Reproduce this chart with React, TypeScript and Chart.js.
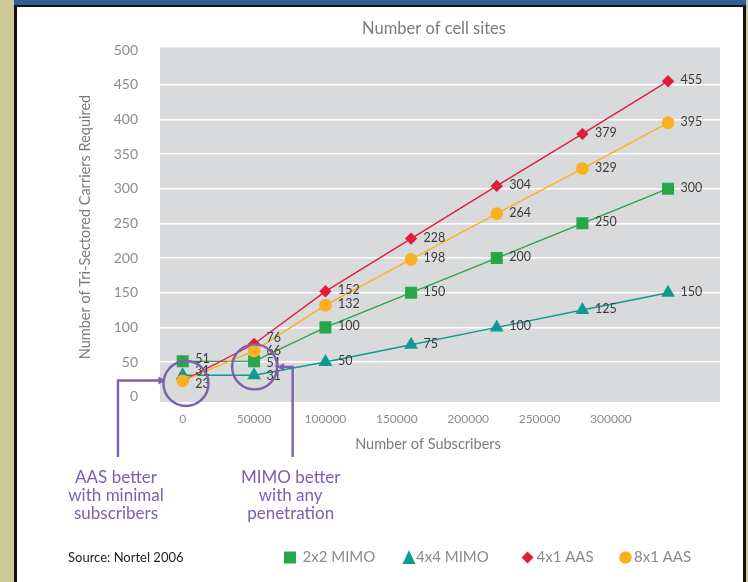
import React, { useEffect, useRef } from "react";
import { Chart, registerables } from "chart.js";

Chart.register(...registerables);

// Subscriber counts along the x axis
const subscribers = [0, 50000, 100000, 160000, 220000, 280000, 340000];

// Tri-sectored carriers required per configuration
const mimo2x2 = [51, 51, 100, 150, 200, 250, 300];
const mimo4x4 = [31, 31, 50, 75, 100, 125, 150];
const aas4x1 = [23, 76, 152, 228, 304, 379, 455];
const aas8x1 = [23, 66, 132, 198, 264, 329, 395];

const seriesNames = ["2x2 MIMO", "4x4 MIMO", "4x1 AAS", "8x1 AAS"];

const xTickValues = [0, 50000, 100000, 150000, 200000, 250000, 300000];
const yTickValues = [0, 50, 100, 150, 200, 250, 300, 350, 400, 450, 500];

const chartTitle = "Number of cell sites";
const xTitle = "Number of Subscribers";
const yTitle = "Number of Tri-Sectored Carriers Required";
const sourceNote = "Source: Nortel 2006";
const leftNote = ["AAS better", "with minimal", "subscribers"];
const rightNote = ["MIMO better", "with any", "penetration"];

const FONT = 'Lato, "Open Sans", "DejaVu Sans", sans-serif';
const GREEN = "#27a64a";
const TEAL = "#0f9a93";
const RED = "#e11d3d";
const ORANGE = "#fbb01d";
const PURPLE = "#7c5fad";
const PLOT_BG = "#d9dadc";

const markerStyles = [
  { color: GREEN, shape: "rect", radius: 8.5 },
  { color: TEAL, shape: "triangle", radius: 8 },
  { color: RED, shape: "rectRot", radius: 6.2 },
  { color: ORANGE, shape: "circle", radius: 6.3 },
];

function drawMarker(ctx: CanvasRenderingContext2D, shape: string, x: number, y: number, size: number, color: string) {
  ctx.save();
  ctx.fillStyle = color;
  ctx.beginPath();
  if (shape === "rect") {
    ctx.rect(x - size / 2, y - size / 2, size, size);
  } else if (shape === "triangle") {
    ctx.moveTo(x, y - size * 0.58);
    ctx.lineTo(x + size / 2, y + size * 0.5);
    ctx.lineTo(x - size / 2, y + size * 0.5);
    ctx.closePath();
  } else if (shape === "rectRot") {
    ctx.moveTo(x, y - size / 2);
    ctx.lineTo(x + size / 2, y);
    ctx.lineTo(x, y + size / 2);
    ctx.lineTo(x - size / 2, y);
    ctx.closePath();
  } else {
    ctx.arc(x, y, size / 2, 0, Math.PI * 2);
  }
  ctx.fill();
  ctx.restore();
}

// Gray plot background
const plotBackground = {
  id: "plotBackground",
  beforeDraw(chart: any) {
    const { ctx, chartArea } = chart;
    ctx.save();
    ctx.fillStyle = PLOT_BG;
    ctx.fillRect(chartArea.left, chartArea.top, chartArea.right - chartArea.left, chartArea.bottom - chartArea.top);
    ctx.restore();
  },
};

// Value labels to the right of each point; labels sharing a column are
// spread apart vertically so they do not collide.
const valueLabels = {
  id: "valueLabels",
  afterDatasetsDraw(chart: any) {
    const { ctx } = chart;
    const columns: Record<number, { text: string; x: number; y: number }[]> = {};
    chart.data.datasets.forEach((ds: any, i: number) => {
      const meta = chart.getDatasetMeta(i);
      meta.data.forEach((pt: any, j: number) => {
        const text = String(ds.data[j].y);
        const col = (columns[j] = columns[j] || []);
        const twin = col.find((l) => l.text === text && Math.abs(l.y - pt.y) < 4);
        if (!twin) col.push({ text, x: pt.x + 12.5, y: pt.y - 1 });
      });
    });
    const GAP = 12.5;
    Object.values(columns).forEach((col) => {
      col.sort((a, b) => a.y - b.y);
      for (let iter = 0; iter < 60; iter++) {
        for (let k = 0; k < col.length - 1; k++) {
          const d = col[k + 1].y - col[k].y;
          if (d < GAP) {
            const push = (GAP - d) / 2;
            col[k].y -= push;
            col[k + 1].y += push;
          }
        }
      }
    });
    ctx.save();
    ctx.font = `12.5px ${FONT}`;
    ctx.fillStyle = "#3b3b3b";
    ctx.textAlign = "left";
    ctx.textBaseline = "middle";
    Object.values(columns).forEach((col) => col.forEach((l) => ctx.fillText(l.text, l.x, l.y)));
    ctx.restore();
  },
};

// Titles, callouts, legend and source note
const decorations = {
  id: "decorations",
  afterDraw(chart: any) {
    const { ctx, scales, chartArea } = chart;
    const xs = scales.x;
    const ys = scales.y;
    ctx.save();

    // Chart title
    ctx.fillStyle = "#7b7b7b";
    ctx.font = `16.5px ${FONT}`;
    ctx.textAlign = "center";
    ctx.textBaseline = "middle";
    ctx.fillText(chartTitle, 434, 29);

    // Axis titles
    ctx.font = `14.5px ${FONT}`;
    ctx.fillText(xTitle, (chartArea.left + chartArea.right) / 2 - 12, 444);
    ctx.save();
    ctx.translate(85, 227);
    ctx.rotate(-Math.PI / 2);
    ctx.fillText(yTitle, 0, 0);
    ctx.restore();

    // Callout circles
    const c1 = { x: xs.getPixelForValue(2300), y: ys.getPixelForValue(19) };
    const c2 = { x: xs.getPixelForValue(50400), y: ys.getPixelForValue(43) };
    ctx.strokeStyle = PURPLE;
    ctx.fillStyle = PURPLE;
    ctx.lineWidth = 2.4;
    [c1, c2].forEach((c) => {
      ctx.beginPath();
      ctx.arc(c.x, c.y, 22.5, 0, Math.PI * 2);
      ctx.stroke();
    });

    const bottomY = 457;
    // Left callout: elbow with arrow pointing right
    const l1x = c1.x - 68;
    const a1y = c1.y - 3;
    const tip1 = c1.x - 20.5;
    ctx.beginPath();
    ctx.moveTo(l1x, bottomY);
    ctx.lineTo(l1x, a1y);
    ctx.lineTo(tip1 - 5, a1y);
    ctx.stroke();
    ctx.beginPath();
    ctx.moveTo(tip1, a1y);
    ctx.lineTo(tip1 - 7, a1y - 4);
    ctx.lineTo(tip1 - 7, a1y + 4);
    ctx.closePath();
    ctx.fill();

    // Right callout: elbow with arrow pointing left
    const l2x = c2.x + 38;
    const a2y = c2.y;
    const tip2 = c2.x + 22.5;
    ctx.beginPath();
    ctx.moveTo(l2x, bottomY);
    ctx.lineTo(l2x, a2y);
    ctx.lineTo(tip2 + 5, a2y);
    ctx.stroke();
    ctx.beginPath();
    ctx.moveTo(tip2, a2y);
    ctx.lineTo(tip2 + 7, a2y - 4);
    ctx.lineTo(tip2 + 7, a2y + 4);
    ctx.closePath();
    ctx.fill();

    // Callout notes
    ctx.font = `17px ${FONT}`;
    ctx.textAlign = "center";
    ctx.textBaseline = "middle";
    leftNote.forEach((t, i) => ctx.fillText(t, l1x - 2, 478 + i * 17.7));
    rightNote.forEach((t, i) => ctx.fillText(t, l2x - 2, 478 + i * 17.7));

    // Source note
    ctx.fillStyle = "#222222";
    ctx.font = `13px ${FONT}`;
    ctx.textAlign = "left";
    ctx.fillText(sourceNote, 68, 558);

    // Legend
    const legendX = [290, 409, 527.5, 625.5];
    const legendTextX = [302.5, 416, 536.5, 634];
    const legendSizes = [12, 13, 12, 12.5];
    ctx.font = `15px ${FONT}`;
    seriesNames.forEach((name, i) => {
      const m = markerStyles[i];
      drawMarker(ctx, m.shape, legendX[i], 557.5, legendSizes[i], m.color);
      ctx.fillStyle = "#8a8a8a";
      ctx.textAlign = "left";
      ctx.textBaseline = "middle";
      ctx.fillText(name, legendTextX[i], 557);
    });

    ctx.restore();
  },
};

function toPoints(values: number[]) {
  return values.map((v, i) => ({ x: subscribers[i], y: v }));
}

export default function App() {
  const canvasRef = useRef<HTMLCanvasElement | null>(null);

  useEffect(() => {
    const canvas = canvasRef.current;
    if (!canvas) return;
    const series = [mimo2x2, mimo4x4, aas4x1, aas8x1];
    const datasets = series.map((vals, i) => {
      const m = markerStyles[i];
      return {
        label: seriesNames[i],
        data: toPoints(vals),
        borderColor: m.color,
        backgroundColor: m.color,
        borderWidth: 1.4,
        pointStyle: m.shape,
        pointRadius: m.radius,
        pointBorderWidth: 0,
        pointBackgroundColor: m.color,
        tension: 0,
        order: 3 - i,
      };
    });

    const chart = new Chart(canvas, {
      type: "line",
      data: { datasets },
      plugins: [plotBackground, valueLabels, decorations],
      options: {
        animation: false,
        responsive: false,
        devicePixelRatio: 1,
        layout: { padding: { top: 47.5, left: 0, right: 28, bottom: 0 } },
        plugins: {
          legend: { display: false },
          title: { display: false },
          tooltip: { enabled: false },
        },
        scales: {
          x: {
            type: "linear",
            min: -15900,
            max: 376400,
            afterBuildTicks: (scale: any) => {
              scale.ticks = xTickValues.map((v) => ({ value: v }));
            },
            afterFit: (scale: any) => {
              scale.height = 180;
            },
            grid: { display: false, drawTicks: false },
            border: { display: false },
            ticks: {
              padding: 10,
              color: "#8c8c8c",
              font: { family: FONT, size: 12 },
              maxRotation: 0,
              autoSkip: false,
              callback: (v: any) => String(v),
            },
          },
          y: {
            type: "linear",
            min: -7.6,
            max: 503.6,
            afterBuildTicks: (scale: any) => {
              scale.ticks = yTickValues.map((v) => ({ value: v }));
            },
            afterFit: (scale: any) => {
              scale.width = 160;
            },
            grid: {
              drawTicks: false,
              lineWidth: 1.6,
              color: (c: any) =>
                c.tick && c.tick.value >= 50 && c.tick.value <= 450 ? "#ffffff" : "rgba(0,0,0,0)",
            },
            border: { display: false },
            ticks: {
              padding: 22,
              color: "#8c8c8c",
              font: { family: FONT, size: 14 },
              autoSkip: false,
              callback: (v: any) => String(v),
            },
          },
        },
      } as any,
    });
    return () => chart.destroy();
  }, []);

  return (
    <div style={{ position: "relative", width: 748, height: 582, background: "#cdcb9a", overflow: "hidden" }}>
      <style>{`body{margin:0}`}</style>
      <div style={{ position: "absolute", left: 14, top: 0, width: 732, height: 5, background: "#2f5f93" }} />
      <div style={{ position: "absolute", left: 14, top: 4.5, width: 732, height: 580, background: "#111111" }} />
      <div style={{ position: "absolute", left: 16.7, top: 6.7, width: 726.6, height: 580, background: "#ffffff" }} />
      <canvas ref={canvasRef} width={748} height={582} style={{ position: "absolute", left: 0, top: 0 }} />
    </div>
  );
}
